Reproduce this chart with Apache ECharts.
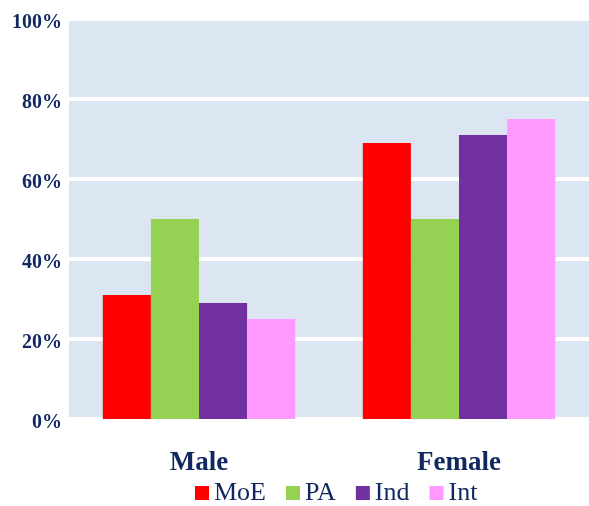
<!DOCTYPE html>
<html><head><meta charset="utf-8">
<script src="https://cdn.jsdelivr.net/npm/echarts@6/dist/echarts.min.js"></script>
<style>html,body{margin:0;padding:0;background:#fff}#c{width:589px;height:506px}</style>
</head><body><div id="c"></div>
<script>
const categories = ['Male', 'Female'];
const seriesNames = ['MoE', 'PA', 'Ind', 'Int'];
const moe = [31, 69];
const pa = [50, 50];
const ind = [29, 71];
const intl = [25, 75];
const colors = ['#FF0000', '#95D153', '#7030A0', '#FF99FF'];
const values = [moe, pa, ind, intl];
const textColor = '#10275F';
const font = '"Liberation Serif", "Times New Roman", serif';

const chart = echarts.init(document.getElementById('c'));
chart.setOption({
  animation: false,
  grid: { left: 69, right: 0, top: 19, bottom: 87, show: true, backgroundColor: '#DCE6F2', borderWidth: 0 },
  xAxis: {
    type: 'category', data: categories,
    axisLine: { show: false }, axisTick: { show: false },
    axisLabel: { color: textColor, fontFamily: font, fontWeight: 'bold', fontSize: 27, margin: 31 }
  },
  yAxis: {
    type: 'value', min: 0, max: 100, interval: 20,
    axisLine: { show: false }, axisTick: { show: false },
    axisLabel: { formatter: '{value}%', color: textColor, fontFamily: font, fontWeight: 'bold', fontSize: 20, margin: 7, verticalAlign: 'top', lineHeight: 8 },
    splitLine: { lineStyle: { color: '#FFFFFF', width: 4 } }
  },
  legend: {
    top: 480, left: 195, itemWidth: 14, itemHeight: 14, itemGap: 20,
    icon: 'rect', padding: 0,
    textStyle: { color: textColor, fontFamily: font, fontSize: 26, padding: [0, 0, 0, 0] },
    data: seriesNames
  },
  series: seriesNames.map((n, i) => ({
    name: n, type: 'bar', data: values[i],
    barGap: '0%', barCategoryGap: '26%',
    itemStyle: { color: colors[i] }
  }))
});
</script></body></html>
